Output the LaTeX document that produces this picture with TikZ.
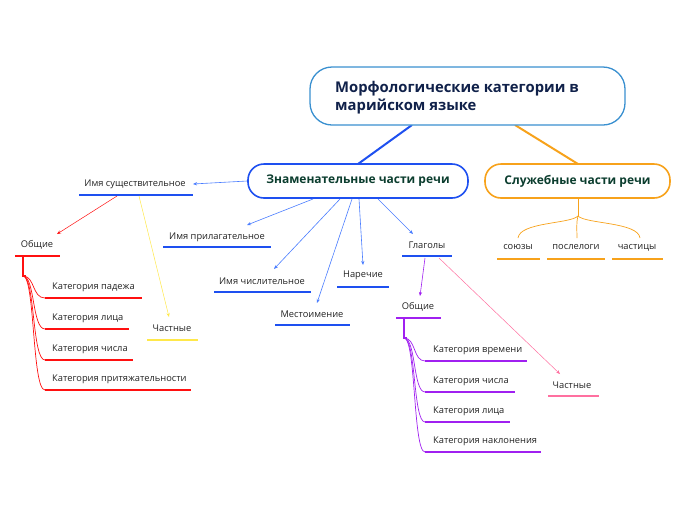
\documentclass[tikz,border=0pt]{standalone}
\usepackage{fontspec}
\setmainfont{Open Sans}
\usetikzlibrary{arrows.meta}
\definecolor{txt}{HTML}{222222}
\definecolor{navy}{HTML}{10214A}
\definecolor{dgreen}{HTML}{0B3D2E}
\definecolor{rootb}{HTML}{3A90D0}
\definecolor{blu}{HTML}{1E50F0}
\definecolor{lblu}{HTML}{4A7DFF}
\definecolor{orng}{HTML}{F7A21B}
\definecolor{rd}{HTML}{FF1010}
\definecolor{ylw}{HTML}{FFE84A}
\definecolor{prp}{HTML}{A020F0}
\definecolor{pnk}{HTML}{FF70A0}
\tikzset{
  lbl/.style={font=\fontsize{9.3}{11}\selectfont, text=txt, inner sep=0pt},
  ul/.style={line width=2.4pt},
  arr/.style={-{Stealth[length=4pt,width=3.2pt]}, line width=0.6pt},
  branchbox/.style={draw, line width=1.6pt, rounded corners=16pt, minimum height=34pt, fill=white,
     font=\fontsize{12}{14}\selectfont\bfseries, text=dgreen},
  curv/.style={line width=0.7pt}
}
\begin{document}
\begin{tikzpicture}[x=1pt,y=-1pt]
\useasboundingbox (0,0) rectangle (696,520);
% main connectors
\coordinate (rz) at (412,125);
\coordinate (rs) at (515,125);
\draw[blu, line width=2pt] (rz) -- (358,164);
\draw[orng, line width=2pt] (rs) -- (578,164);
% root
\node[draw=rootb, line width=1.3pt, rounded corners=22pt, minimum width=315pt, minimum height=58pt, fill=white] (root) at (467.5,96) {};
\node[font=\fontsize{14.8}{18}\selectfont\bfseries, text=navy, align=left, anchor=west, inner sep=0pt] (roottxt) at (335,97.5) {Морфологические категории в\\марийском языке};
% branches
\node[branchbox, draw=blu, minimum width=220pt] (zn) at (358,181) {Знаменательные части речи};
\node[branchbox, draw=orng, minimum width=185pt] (sl) at (577.5,181) {Служебные части речи};

% ---- Служебные children
\coordinate (s0) at (578,198);
\coordinate (s1) at (578,216);
\draw[orng, line width=1pt] (s0) -- (s1);
\node[lbl] (soyuzy) at (518,247.5) {союзы};
\node[lbl] (posl) at (576,247.5) {послелоги};
\node[lbl] (chast) at (637,247.5) {частицы};
\draw[orng, curv] (s1) .. controls (570,224) and (520,222) .. (518,238);
\draw[orng, curv] (s1) .. controls (576,224) and (577,230) .. (577,238);
\draw[orng, curv] (s1) .. controls (586,224) and (638,222) .. (640,238);
\draw[orng, ul] (497,259) -- (540,259);
\draw[orng, ul] (547,259) -- (605,259);
\draw[orng, ul] (612,259) -- (663,259);

% ---- Знаменательные children
\node[lbl] (sush) at (135,184) {Имя существительное};
\draw[blu, ul] (79,195) -- (193,195);
\node[lbl] (pril) at (217,237) {Имя прилагательное};
\draw[blu, ul] (163,247) -- (271,247);
\node[lbl] (chisl) at (262,281) {Имя числительное};
\draw[blu, ul] (214,292) -- (311,292);
\node[lbl] (mest) at (312,314) {Местоимение};
\draw[blu, ul] (275,325) -- (350,325);
\node[lbl] (narech) at (363,275.5) {Наречие};
\draw[blu, ul] (337,287) -- (389,287);
\node[lbl] (glag) at (427,245) {Глаголы};
\draw[blu, ul] (402,256) -- (452,256);

\draw[lblu, arr] (zn.west) -- (193,184);
\draw[lblu, arr] (313,199) -- (247,225);
\draw[lblu, arr] (340,199) -- (274,269);
\draw[lblu, arr] (352,199) -- (317,303);
\draw[lblu, arr] (359,199) -- (363,265);
\draw[lblu, arr] (378,199) -- (413,234);

% ---- Имя существительное children
\coordinate (ns1) at (117,196);
\coordinate (ns2) at (139,196);
\node[lbl] (nobsh) at (37,245) {Общие};
\draw[rd, ul] (15,256) -- (60,256);
\draw[rd, arr, line width=0.5pt] (ns1) -- (57,234);
\node[lbl] (nchast) at (172,328) {Частные};
\draw[ylw, ul] (147,340) -- (198,340);
\draw[ylw, arr, line width=0.5pt] (ns2) -- (169,317);
\coordinate (nstem0) at (23,256);
\coordinate (nstem) at (23,276);
\draw[rd, line width=1.3pt] (nstem0) -- (nstem) -- (26,276);
\foreach \y/\xe/\t [count=\i] in {298/142/Категория падежа, 329/129/Категория лица, 360/133/Категория числа, 390/191/Категория притяжательности}{
  \node[lbl, anchor=west] (nc\i) at (52,\y-10.5) {\t};
  \draw[rd, ul] (45,\y) -- (\xe,\y);
  \draw[rd, curv] (nstem) .. controls (35,276) and (32,\y) .. (45,\y);
}

% ---- Глаголы children
\coordinate (g1) at (425,258);
\coordinate (g2) at (439,258);
\node[lbl] (gobsh) at (418,307) {Общие};
\draw[prp, ul] (396,318) -- (441,318);
\draw[prp, arr, line width=0.6pt] (g1) -- (420,296);
\node[lbl] (gchast) at (572,385) {Частные};
\draw[pnk, ul] (548,396) -- (599,396);
\draw[pnk, arr, line width=0.5pt] (g2) -- (560,374);
\coordinate (gstem0) at (404,318);
\coordinate (gstem) at (404,338);
\draw[prp, line width=1.3pt] (gstem0) -- (gstem) -- (407,338);
\foreach \y/\xe/\t [count=\i] in {361/527/Категория времени, 392/515/Категория числа, 422/510/Категория лица, 452/541/Категория наклонения}{
  \node[lbl, anchor=west] (gc\i) at (433,\y-10.5) {\t};
  \draw[prp, ul] (425,\y) -- (\xe,\y);
  \draw[prp, curv] (gstem) .. controls (416,338) and (413,\y) .. (425,\y);
}
\end{tikzpicture}
\end{document}
